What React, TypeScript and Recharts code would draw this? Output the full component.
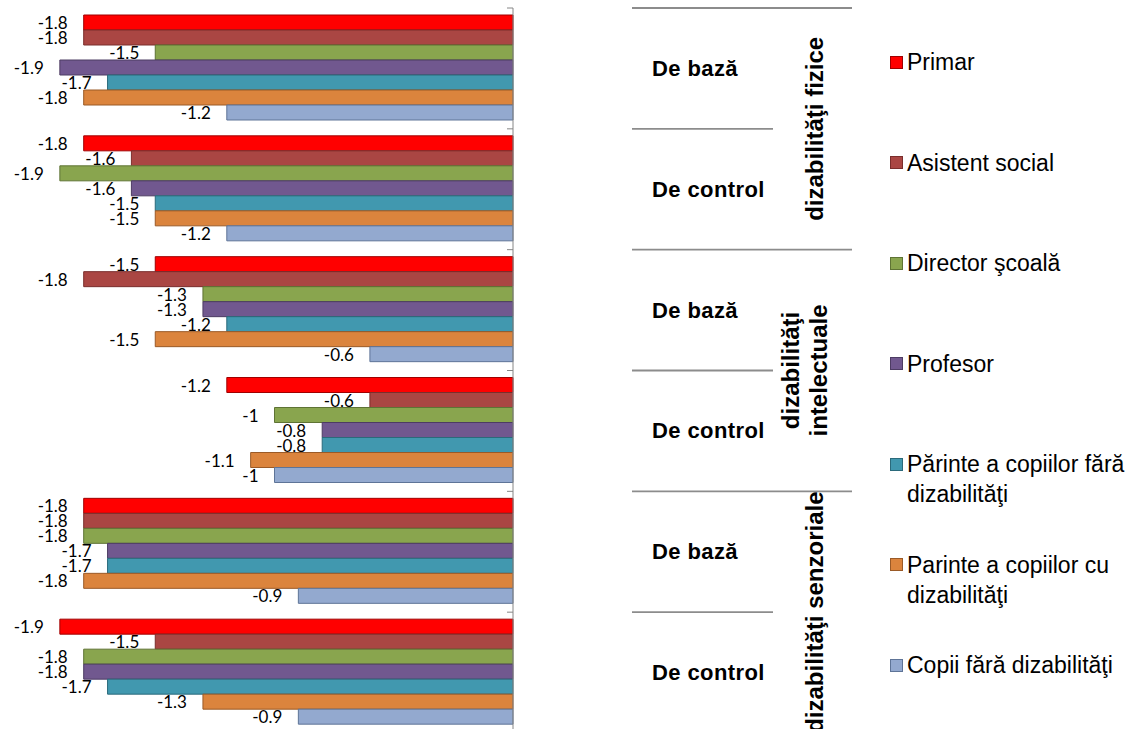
import { BarChart, Bar, XAxis, YAxis, LabelList, Legend } from "recharts";

// rows, top to bottom
const rowIds = ["fiz-baza", "fiz-control", "int-baza", "int-control", "senz-baza", "senz-control"];
const rowLabels = ["De bază", "De control", "De bază", "De control", "De bază", "De control"];
const groupLabels = [["dizabilităţi fizice"], ["dizabilităţi", "intelectuale"], ["dizabilităţi senzoriale"]];

const seriesNames = [
  "Primar",
  "Asistent social",
  "Director şcoală",
  "Profesor",
  "Părinte a copiilor fără dizabilităţi",
  "Parinte a copiilor cu dizabilităţi",
  "Copii fără dizabilităţi",
];

const primar = [-1.8, -1.8, -1.5, -1.2, -1.8, -1.9];
const asistent = [-1.8, -1.6, -1.8, -0.6, -1.8, -1.5];
const director = [-1.5, -1.9, -1.3, -1, -1.8, -1.8];
const profesor = [-1.9, -1.6, -1.3, -0.8, -1.7, -1.8];
const parinteFara = [-1.7, -1.5, -1.2, -0.8, -1.7, -1.7];
const parinteCu = [-1.8, -1.5, -1.5, -1.1, -1.8, -1.3];
const copii = [-1.2, -1.2, -0.6, -1, -0.9, -0.9];

const seriesValues = [primar, asistent, director, profesor, parinteFara, parinteCu, copii];

const fills = ["#FF0000", "#AA4643", "#89A54E", "#71588F", "#4198AF", "#DB843D", "#93A9CF"];
const strokes = ["#A00000", "#7A2E2C", "#5E7334", "#4D3C63", "#2B6A7B", "#9A5A27", "#5E7497"];

const data = rowIds.map((id, i) => {
  const row: Record<string, any> = { id };
  seriesValues.forEach((vals, s) => {
    row[`s${s}`] = vals[i];
  });
  return row;
});

const LINE = "#8c8c8c";

function BarValue(props: any) {
  const vb = props.viewBox && typeof props.viewBox.x === "number" ? props.viewBox : props;
  const { x, y, width, height } = vb;
  const left = Math.min(x, x + width);
  return (
    <text
      x={left - 16}
      y={y + height / 2}
      textAnchor="end"
      dominantBaseline="central"
      fontFamily="Lato, 'Open Sans', sans-serif"
      fontSize={17}
      fill="#000"
    >
      {props.value}
    </text>
  );
}

function RowTick(props: any) {
  const { x, y, payload } = props;
  const i = payload?.index ?? props.index;
  const half = payload?.offset || 60.4;
  const top = y - half;
  const bottom = y + half;
  const groupStart = i % 2 === 0;
  const group = groupLabels[Math.floor(i / 2)];
  const bold = { fontFamily: "'Liberation Sans', Arial, sans-serif", fontWeight: 700, fill: "#000" };

  return (
    <g>
      <line x1={x - 6} x2={x} y1={top} y2={top} stroke="#868686" />
      {i === rowIds.length - 1 && <line x1={x - 6} x2={x} y1={bottom} y2={bottom} stroke="#868686" />}
      <line x1={x + 119} x2={x + (groupStart ? 339 : 260)} y1={top} y2={top} stroke={LINE} strokeWidth={1.8} />
      {i === rowIds.length - 1 && (
        <line x1={x + 119} x2={x + 339} y1={bottom} y2={bottom} stroke={LINE} strokeWidth={1.8} />
      )}
      <text x={x + 139} y={y} dominantBaseline="central" fontSize={22} letterSpacing={0.4} {...bold}>
        {rowLabels[i]}
      </text>
      {groupStart &&
        group.map((line, k) => {
          const cx = group.length === 1 ? x + 302 : x + 277 + k * 28;
          const cy = bottom;
          return (
            <text
              key={k}
              x={cx}
              y={cy}
              transform={`rotate(-90, ${cx}, ${cy})`}
              textAnchor="middle"
              dominantBaseline="central"
              fontSize={24}
              {...bold}
            >
              {line}
            </text>
          );
        })}
    </g>
  );
}

function LegendBox() {
  return (
    <div
      style={{
        position: "relative",
        width: 263,
        height: 729,
        fontFamily: "'Liberation Sans', Arial, sans-serif",
        fontSize: 23,
        color: "#000",
      }}
    >
      {seriesNames.map((name, i) => (
        <div
          key={name}
          style={{ position: "absolute", left: 0, top: 47 + i * 100.5, display: "flex", alignItems: "flex-start" }}
        >
          <span
            style={{
              display: "inline-block",
              flex: "none",
              boxSizing: "border-box",
              width: 13,
              height: 13,
              marginTop: 8.5,
              marginLeft: 10,
              marginRight: 4,
              background: fills[i],
              border: `1px solid ${strokes[i]}`,
            }}
          />
          <span style={{ lineHeight: "30px", width: 236 }}>{name}</span>
        </div>
      ))}
    </div>
  );
}

export default function App() {
  return (
    <div
      style={{
        position: "absolute",
        left: 0,
        top: 0,
        width: 1143,
        height: 729,
        overflow: "hidden",
        background: "#fff",
      }}
    >
      <BarChart
        width={1143}
        height={742}
        data={data}
        layout="vertical"
        margin={{ top: 8, right: 270, left: 36, bottom: 9 }}
        barCategoryGap={7}
        barGap={0}
      >
        <XAxis type="number" domain={[-2, 0]} hide />
        <YAxis
          type="category"
          dataKey="id"
          orientation="right"
          width={360}
          tickSize={0}
          tickMargin={0}
          interval={0}
          axisLine={{ stroke: "#868686" }}
          tickLine={false}
          tick={(p: any) => <RowTick {...p} />}
        />
        <Legend
          layout="horizontal"
          verticalAlign="middle"
          align="center"
          wrapperStyle={{ left: 880, top: 0, width: 263, height: 729 }}
          content={() => <LegendBox />}
        />
        {seriesNames.map((name, s) => (
          <Bar
            key={name}
            dataKey={`s${s}`}
            name={name}
            fill={fills[s]}
            stroke={strokes[s]}
            strokeWidth={1}
            isAnimationActive={false}
          >
            <LabelList dataKey={`s${s}`} content={(p: any) => <BarValue {...p} />} />
          </Bar>
        ))}
      </BarChart>
    </div>
  );
}
